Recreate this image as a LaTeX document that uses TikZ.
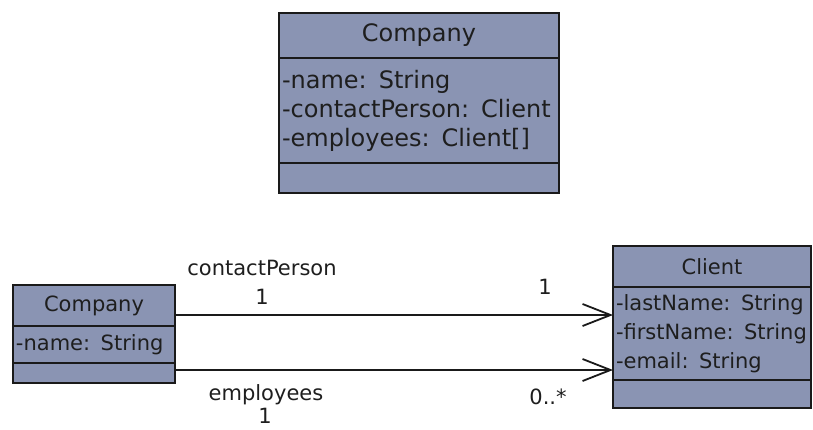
\documentclass[tikz,border=0pt]{standalone}
\usepackage{fontspec}
\setmainfont{DejaVu Sans}
\usetikzlibrary{arrows.meta,positioning}
\definecolor{umlfill}{HTML}{8A94B3}
\definecolor{umlline}{HTML}{1A1A1A}
\definecolor{ink}{HTML}{1E1E1E}

\begin{document}
\begin{tikzpicture}[
  x=0.5pt, y=-0.5pt,
  font=\fontsize{10.5}{14.5}\selectfont, text=ink,
  part/.style={draw=umlline, fill=umlfill, line width=1.1pt, outer sep=0pt, inner xsep=1.5pt, inner ysep=0pt},
  head/.style={part, anchor=north},
  attrs/.style={part, align=left, text width=#1},
  ops/.style={part},
  big/.style={font=\fontsize{12}{14.5}\selectfont},
  tag/.style={inner sep=0pt},
  assoc/.style={-{Straight Barb[length=14pt,width=11pt,line width=0.9pt]}, line width=0.9pt, draw=umlline}
]
\useasboundingbox (0,0) rectangle (813,429);
% class diagram of Company
\node[head, big, minimum width=140pt, minimum height=22.5pt] (cls) at (419,13) {Company};
\node[attrs=137pt, big, below=0pt of cls, minimum width=140pt, minimum height=52.5pt] (clsattr)
  {-name: String\\-contactPerson: Client\\-employees: Client[]};
\node[ops, below=0pt of clsattr, minimum width=140pt, minimum height=15pt] (clsops) {};
% Company with associations
\node[head, minimum width=81pt, minimum height=20.5pt] (comp) at (94,285) {Company};
\node[attrs=78pt, below=0pt of comp, minimum width=81pt, minimum height=18.5pt] (compattr) {-name: String};
\node[ops, below=0pt of compattr, minimum width=81pt, minimum height=10pt] (compops) {};
% Client
\node[head, minimum width=99pt, minimum height=20.5pt] (client) at (712,246) {Client};
\node[attrs=96pt, below=0pt of client, minimum width=99pt, minimum height=46.5pt] (clientattr)
  {-lastName: String\\-firstName: String\\-email: String};
\node[ops, below=0pt of clientattr, minimum width=99pt, minimum height=14pt] (clientops) {};
% associations
\coordinate (cpy) at (0,315);
\coordinate (emy) at (0,370);
\draw[assoc] (comp.east |- cpy) -- (clientattr.west |- cpy);
\draw[assoc] (compattr.east |- emy) -- (clientattr.west |- emy);
\node[tag] (cpname) at (262,268) {contactPerson};
\node[tag] (cpsrc) at (262,297) {1};
\node[tag] (cpdst) at (545,287) {1};
\node[tag] (emname) at (266,395) {employees};
\node[tag] (emsrc) at (265,416) {1};
\node[tag] (emdst) at (548,397) {0..*};
\end{tikzpicture}
\end{document}
